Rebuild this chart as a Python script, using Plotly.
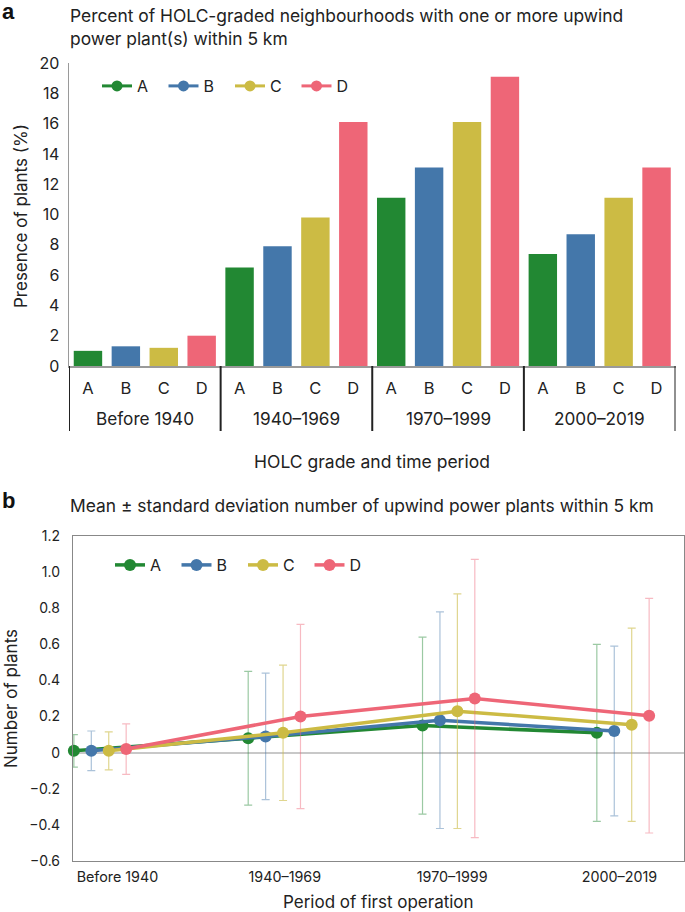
import plotly.graph_objects as go

# ---------------- data ----------------
periods = ["Before 1940", "1940–1969", "1970–1999", "2000–2019"]
grades = ["A", "B", "C", "D"]

# Panel a: percent of neighbourhoods with >=1 upwind plant within 5 km
presence_A = [1.0, 6.5, 11.1, 7.4]
presence_B = [1.3, 7.9, 13.1, 8.7]
presence_C = [1.2, 9.8, 16.1, 11.1]
presence_D = [2.0, 16.1, 19.1, 13.1]

# Panel b: mean and standard deviation of number of upwind plants within 5 km
mean_A = [0.01, 0.08, 0.15, 0.11]
mean_B = [0.01, 0.09, 0.18, 0.12]
mean_C = [0.01, 0.11, 0.23, 0.155]
mean_D = [0.02, 0.20, 0.30, 0.205]
sd_A = [0.09, 0.37, 0.49, 0.49]
sd_B = [0.11, 0.35, 0.60, 0.47]
sd_C = [0.105, 0.375, 0.65, 0.535]
sd_D = [0.14, 0.51, 0.77, 0.65]

y_ticks_a = [0, 2, 4, 6, 8, 10, 12, 14, 16, 18, 20]
y_ticks_b = [-0.6, -0.4, -0.2, 0, 0.2, 0.4, 0.6, 0.8, 1.0, 1.2]
y_ticktext_b = ["−0.6", "−0.4", "−0.2", "0", "0.2", "0.4", "0.6", "0.8", "1.0", "1.2"]

# ---------------- styles ----------------
colors = {"A": "#228833", "B": "#4477AA", "C": "#CCBB44", "D": "#EE6677"}
err_colors = {"A": "rgba(34,136,51,0.45)", "B": "rgba(68,119,170,0.45)",
              "C": "rgba(204,187,68,0.6)", "D": "rgba(238,102,119,0.45)"}
grade_offsets = [-0.15, -0.05, 0.05, 0.15]
period_label_pos = [0.10, 1.06, 2.02, 2.98]
FONT = "Inter"
TXT = "#222"

presence = {"A": presence_A, "B": presence_B, "C": presence_C, "D": presence_D}
means = {"A": mean_A, "B": mean_B, "C": mean_C, "D": mean_D}
sds = {"A": sd_A, "B": sd_B, "C": sd_C, "D": sd_D}

n_g = len(grades)
n_p = len(periods)

fig = go.Figure()

# Panel a bars: slot index = period * n_grades + grade
for gi, g in enumerate(grades):
    fig.add_trace(go.Bar(
        x=[pi * n_g + gi for pi in range(n_p)], y=presence[g], width=0.75,
        marker=dict(color=colors[g], line=dict(width=0)),
        showlegend=False, xaxis="x", yaxis="y", hoverinfo="skip"))

# Legend entries for panel a (legend-only traces)
for g in grades:
    fig.add_trace(go.Scatter(
        x=[None], y=[None], mode="lines+markers", name=g,
        line=dict(color=colors[g], width=3), marker=dict(size=11, color=colors[g]),
        xaxis="x2", yaxis="y2", legend="legend"))

# Panel b lines with error bars
for gi, g in enumerate(grades):
    xs = [i + grade_offsets[gi] for i in range(n_p)]
    fig.add_trace(go.Scatter(
        x=xs, y=means[g], mode="lines+markers", name=g,
        line=dict(color=colors[g], width=3.5), marker=dict(size=12, color=colors[g]),
        error_y=dict(type="data", array=sds[g], visible=True, color=err_colors[g],
                     thickness=1.2, width=4),
        xaxis="x2", yaxis="y2", legend="legend2", cliponaxis=False))

W, H = 685, 912
def px(x):
    return x / W
def py(y):
    return 1 - y / H

fig.update_layout(
    width=W, height=H,
    margin=dict(l=0, r=0, t=0, b=0, autoexpand=False),
    paper_bgcolor="white", plot_bgcolor="white",
    barmode="overlay",
    font=dict(family=FONT, size=14, color=TXT),
    xaxis=dict(
        domain=[px(69), px(675.5)], anchor="y", range=[-0.5, n_p * n_g - 0.5],
        tickvals=list(range(n_p * n_g)), ticktext=grades * n_p,
        showline=True, linecolor="#9a9a9a", linewidth=1.5,
        showgrid=False, zeroline=False, ticks="", ticklabelstandoff=7,
        automargin=False,
        tickfont=dict(family=FONT, size=16.5, color=TXT)),
    yaxis=dict(
        domain=[py(366), py(63)], anchor="x", range=[0, 20],
        tickvals=y_ticks_a, showline=True, linecolor="#9a9a9a", linewidth=1.5,
        showgrid=False, zeroline=False, ticks="", ticklabelstandoff=5,
        automargin=False,
        tickfont=dict(family=FONT, size=16, color=TXT)),
    xaxis2=dict(
        domain=[px(73), px(684)], anchor="y2", range=[-0.155, 3.35],
        tickvals=period_label_pos, ticktext=periods,
        showline=True, mirror=True, linecolor="#888", linewidth=1.2,
        showgrid=False, zeroline=False, ticks="", ticklabelstandoff=3,
        automargin=False,
        tickfont=dict(family=FONT, size=14.3, color=TXT)),
    yaxis2=dict(
        domain=[py(861), py(536)], anchor="x2", range=[-0.6, 1.2],
        tickvals=y_ticks_b, ticktext=y_ticktext_b,
        showline=True, mirror=True, linecolor="#888", linewidth=1.2,
        showgrid=False, zeroline=True, zerolinecolor="#c8c8c8", zerolinewidth=2,
        ticks="", ticklabelstandoff=9, automargin=False,
        tickfont=dict(family=FONT, size=14, color=TXT)),
    legend=dict(orientation="h", x=px(97), y=py(86), xanchor="left", yanchor="middle",
                font=dict(family=FONT, size=16, color=TXT),
                entrywidth=21.5, entrywidthmode="pixels", bgcolor="rgba(0,0,0,0)",
                tracegroupgap=0, itemclick=False),
    legend2=dict(orientation="h", x=px(110), y=py(565), xanchor="left", yanchor="middle",
                 font=dict(family=FONT, size=16, color=TXT),
                 entrywidth=21.5, entrywidthmode="pixels", bgcolor="rgba(0,0,0,0)",
                 tracegroupgap=0, itemclick=False),
    showlegend=True,
)

# Group dividers and period labels on the panel-a category axis
shapes = []
for k in range(n_p + 1):
    xb = k * n_g - 0.5
    shapes.append(dict(type="line", xref="x", yref="paper", x0=xb, x1=xb,
                       y0=py(366), y1=py(431), line=dict(color="#222", width=2)))
fig.update_layout(shapes=shapes)

annotations = []
for pi, p in enumerate(periods):
    annotations.append(dict(text=p, xref="x", yref="paper", x=pi * n_g + (n_g - 1) / 2,
                            y=py(419), xanchor="center", yanchor="middle",
                            font=dict(family=FONT, size=17.2, color=TXT)))

annotations += [
    dict(text="<b>a</b>", xref="paper", yref="paper", x=0, y=py(11),
         xanchor="left", yanchor="middle",
         font=dict(family="Liberation Sans", size=22, color="#111")),
    dict(text="Percent of HOLC-graded neighbourhoods with one or more upwind<br>power plant(s) within 5 km",
         xref="paper", yref="paper", x=px(68), y=py(27), xanchor="left", yanchor="middle",
         align="left", font=dict(family=FONT, size=17.4, color=TXT)),
    dict(text="Presence of plants (%)", xref="paper", yref="paper", x=px(21), y=py(216),
         textangle=-90, xanchor="center", yanchor="middle",
         font=dict(family=FONT, size=17, color=TXT)),
    dict(text="HOLC grade and time period", xref="paper", yref="paper", x=px(372), y=py(462),
         xanchor="center", yanchor="middle",
         font=dict(family=FONT, size=17.5, color=TXT)),
    dict(text="<b>b</b>", xref="paper", yref="paper", x=0, y=py(501),
         xanchor="left", yanchor="middle",
         font=dict(family="Liberation Sans", size=22, color="#111")),
    dict(text="Mean ± standard deviation number of upwind power plants within 5 km",
         xref="paper", yref="paper", x=px(68), y=py(505), xanchor="left", yanchor="middle",
         font=dict(family=FONT, size=17.4, color=TXT)),
    dict(text="Number of plants", xref="paper", yref="paper", x=px(11), y=py(699),
         textangle=-90, xanchor="center", yanchor="middle",
         font=dict(family=FONT, size=17, color=TXT)),
    dict(text="Period of first operation", xref="paper", yref="paper", x=px(379), y=py(902),
         xanchor="center", yanchor="middle",
         font=dict(family=FONT, size=17, color=TXT)),
]
for a in annotations:
    a.update(showarrow=False)
fig.update_layout(annotations=annotations)

# The page's default body margin would offset the 685x912 figure; remove it.
fig.write_html("out.html",
               config=dict(displayModeBar=False, staticPlot=True),
               post_script="document.body.style.margin='0';document.body.style.overflow='hidden';")
